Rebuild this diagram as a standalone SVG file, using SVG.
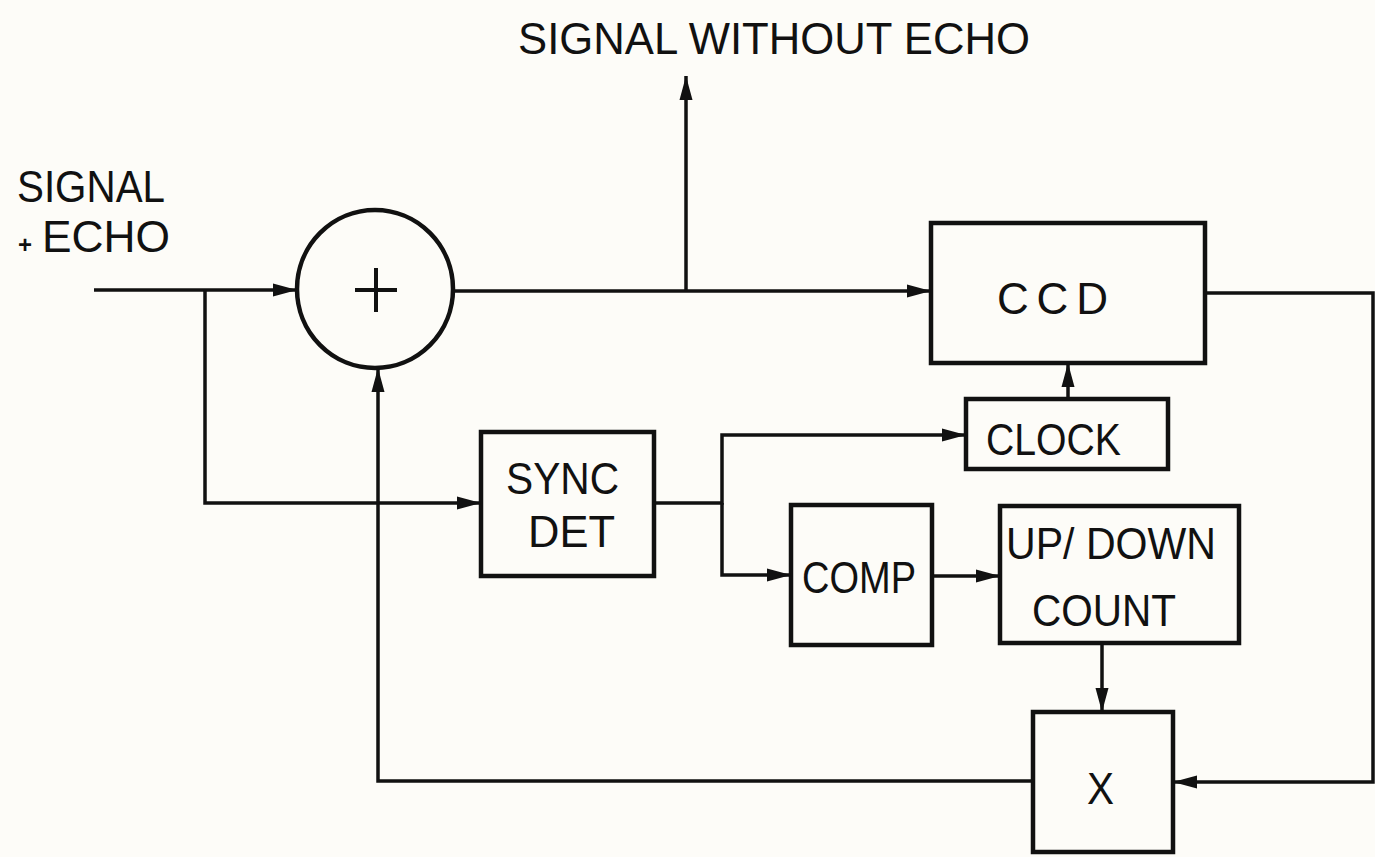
<svg xmlns="http://www.w3.org/2000/svg" width="1375" height="857" viewBox="0 0 1375 857">
<style>
.box{fill:none;stroke:#111;stroke-width:4.5}
.ln{fill:none;stroke:#111;stroke-width:3.5}
.t{font-family:"Liberation Sans",Arial,sans-serif;font-size:44px;fill:#111}
</style>
<defs>
<marker id="ar" markerUnits="userSpaceOnUse" markerWidth="26" markerHeight="16" refX="24" refY="8" orient="auto">
<path d="M0,1.5 L24,8 L0,14.5 z" fill="#111"/>
</marker>
</defs>
<rect width="1375" height="857" fill="#fdfcf8"/>
<g id="labels">
<text class="t" x="518" y="54" textLength="512" lengthAdjust="spacingAndGlyphs">SIGNAL WITHOUT ECHO</text>
<text class="t" x="17" y="202" textLength="148" lengthAdjust="spacingAndGlyphs">SIGNAL</text>
<text class="t" x="18" y="253" style="font-size:24px;font-weight:bold">+</text>
<text class="t" x="42" y="252" textLength="128" lengthAdjust="spacingAndGlyphs">ECHO</text>
</g>
<g id="adder">
<ellipse cx="375" cy="289" rx="78" ry="79" class="box"/>
<path d="M355 290 H397 M376 268 V312" class="ln" style="stroke-width:4"/>
</g>
<g id="ccd">
<rect x="931" y="223" width="274" height="140" class="box"/>
<text class="t" x="997" y="314" textLength="111" lengthAdjust="spacing">C C D</text>
</g>
<g id="clock">
<rect x="966" y="399" width="202" height="70" class="box"/>
<text class="t" x="986" y="455" textLength="135" lengthAdjust="spacingAndGlyphs">CLOCK</text>
</g>
<g id="syncdet">
<rect x="481" y="432" width="173" height="144" class="box"/>
<text class="t" x="506" y="494" textLength="113" lengthAdjust="spacingAndGlyphs">SYNC</text>
<text class="t" x="528" y="547" textLength="87" lengthAdjust="spacingAndGlyphs">DET</text>
</g>
<g id="comp">
<rect x="791" y="505" width="141" height="140" class="box"/>
<text class="t" x="802" y="593" textLength="114" lengthAdjust="spacingAndGlyphs">COMP</text>
</g>
<g id="updown">
<rect x="1000" y="506" width="239" height="137" class="box"/>
<text class="t" x="1006" y="559" textLength="210" lengthAdjust="spacingAndGlyphs">UP/ DOWN</text>
<text class="t" x="1032" y="626" textLength="144" lengthAdjust="spacingAndGlyphs">COUNT</text>
</g>
<g id="mult">
<rect x="1033" y="712" width="140" height="140" class="box"/>
<text class="t" x="1087" y="804" textLength="27" lengthAdjust="spacingAndGlyphs">X</text>
</g>
<g id="connectors">
<path d="M94 290 H297" class="ln" marker-end="url(#ar)"/>
<path d="M205 290 V503 H481" class="ln" marker-end="url(#ar)"/>
<path d="M453 291 H931" class="ln" marker-end="url(#ar)"/>
<path d="M686 291 V76" class="ln" marker-end="url(#ar)"/>
<path d="M654 503 H722 V435 H966" class="ln" marker-end="url(#ar)"/>
<path d="M722 503 V575 H791" class="ln" marker-end="url(#ar)"/>
<path d="M932 576 H1000" class="ln" marker-end="url(#ar)"/>
<path d="M1068 399 V363" class="ln" marker-end="url(#ar)"/>
<path d="M1205 293 H1373 V782 H1173" class="ln" marker-end="url(#ar)"/>
<path d="M1102 643 V712" class="ln" marker-end="url(#ar)"/>
<path d="M1033 781 H378 V368" class="ln" marker-end="url(#ar)"/>
</g>
</svg>
